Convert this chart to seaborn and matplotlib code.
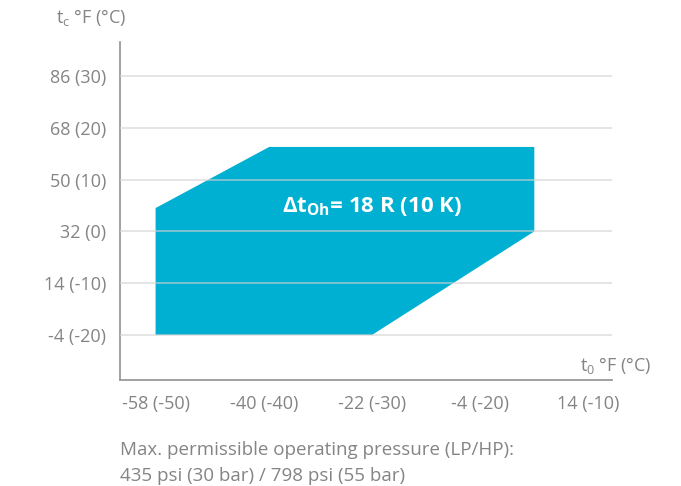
import matplotlib
matplotlib.use("Agg")
import matplotlib.pyplot as plt
import seaborn as sns

# ---------------------------------------------------
# Datos del diagrama (en °C)
# ---------------------------------------------------
region_to = [-50, -50, -39.5, -15, -15, -30]
region_tc = [-20, 4.5, 16.3, 16.3, 0, -20]

x_ticks = [-50, -40, -30, -20, -10]
x_labels = ["-58 (-50)", "-40 (-40)", "-22 (-30)", "-4 (-20)", "14 (-10)"]
y_ticks = [-20, -10, 0, 10, 20, 30]
y_labels = ["-4 (-20)", "14 (-10)", "32 (0)", "50 (10)", "68 (20)", "86 (30)"]

region_label = r"$\mathbf{\Delta t_{Oh}}$" + "= 18 R (10 K)"
footer = ["Max. permissible operating pressure (LP/HP):",
          "435 psi (30 bar) / 798 psi (55 bar)"]
# ---------------------------------------------------

FILL = "#00b0d2"
GREY_TXT = "#848484"
GRID = "#d2d2d2"
SPINE = "#9a9a9c"

sns.set_style("white")
plt.rcParams['font.family'] = ['Open Sans', 'DejaVu Sans']
plt.rcParams['mathtext.fontset'] = 'custom'
plt.rcParams['mathtext.rm'] = 'Open Sans'
plt.rcParams['mathtext.bf'] = 'Open Sans:bold'
plt.rcParams['mathtext.it'] = 'Open Sans'

fig = plt.figure(figsize=(6.81, 4.86), dpi=100)
ax = fig.add_axes([0.176, 0.218, 0.723, 0.696])

ax.fill(region_to, region_tc, color=FILL, linewidth=0, zorder=2)

# lineas de grilla por encima del area
for y in y_ticks:
    ax.axhline(y, color=GRID, linewidth=1.1, alpha=0.75, zorder=3)

ax.set_xlim(-53.3, -7.8)
ax.set_ylim(-28.7, 36.6)
ax.set_xticks(x_ticks)
ax.set_xticklabels(x_labels)
ax.set_yticks(y_ticks)
ax.set_yticklabels(y_labels)

sns.despine(ax=ax)
for side in ["left", "bottom"]:
    ax.spines[side].set_color(SPINE)
    ax.spines[side].set_linewidth(1.3)

ax.tick_params(axis="x", length=7, width=1.2, color=SPINE, labelsize=13,
               labelcolor=GREY_TXT, pad=4, direction="out")
ax.tick_params(axis="y", length=0, labelsize=13, labelcolor=GREY_TXT, pad=10)

ax.text(-30, 4.8, region_label, color="white", fontsize=16, fontweight="bold",
        ha="center", va="center", zorder=4)

fig.text(56 / 681, 1 - 18 / 486, r"$\mathregular{t_c}$ °F (°C)", color=GREY_TXT,
         fontsize=13, ha="left", va="center")
fig.text(652 / 681, 1 - 365 / 486, r"$\mathregular{t_0}$ °F (°C)", color=GREY_TXT,
         fontsize=13, ha="right", va="center")

fig.text(120 / 681, 1 - 450 / 486, footer[0], color=GREY_TXT, fontsize=13.5,
         ha="left", va="center")
fig.text(120 / 681, 1 - 476 / 486, footer[1], color=GREY_TXT, fontsize=13.5,
         ha="left", va="center")

fig.savefig("out.png", dpi=100)
